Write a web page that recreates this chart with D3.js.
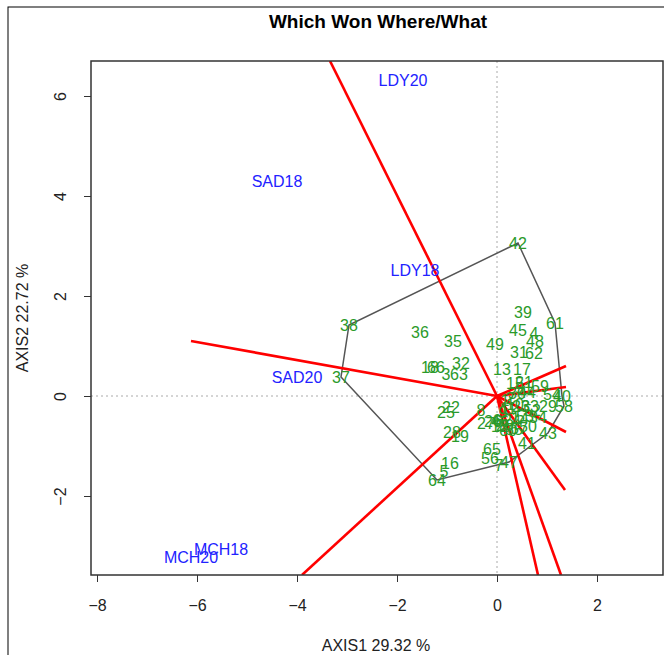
<!DOCTYPE html>
<html><head><meta charset="utf-8">
<script src="https://cdn.jsdelivr.net/npm/d3@7"></script>
<style>body{margin:0;background:#fff}svg{display:block;font-family:"Liberation Sans",Arial,sans-serif}</style>
</head><body><svg id="c" width="664" height="655"></svg>
<script>
const genoLabels = ["42","39","61","38","36","45","4","48","35","49","31","62","18","66","32","3","63","37","13","17","15","21","59","54","40","29","58","23","33","43","41","65","56","7","47","16","5","64","22","25","28","19","8","27","1","2","6","9","10","11","12","14","20","24","26","30","34","44","46","50","51","52","53","55","57","60"];
const genoAxis1 = [0.42,0.52,1.16,-2.96,-1.54,0.42,0.74,0.76,-0.88,-0.04,0.44,0.74,-1.34,-1.22,-0.72,-1.02,-0.76,-3.12,0.10,0.50,0.36,0.54,0.86,1.10,1.30,1.02,1.34,0.48,0.66,1.02,0.60,-0.10,-0.14,0.04,0.24,-0.94,-1.06,-1.20,-0.92,-1.02,-0.90,-0.74,-0.32,-0.22,0.16,0.26,0.00,0.12,0.36,0.22,0.06,0.46,0.16,0.30,-0.08,0.40,0.82,0.60,0.06,0.62,0.54,0.70,0.56,0.34,0.44,0.22];
const genoAxis2 = [3.06,1.68,1.46,1.42,1.28,1.32,1.26,1.10,1.10,1.04,0.88,0.86,0.58,0.58,0.66,0.44,0.44,0.38,0.54,0.54,0.26,0.28,0.20,0.04,0.00,-0.20,-0.20,-0.20,-0.20,-0.74,-0.94,-1.06,-1.24,-1.38,-1.32,-1.34,-1.50,-1.68,-0.22,-0.32,-0.72,-0.80,-0.28,-0.54,-0.08,-0.04,-0.48,-0.32,-0.16,-0.24,-0.60,-0.44,-0.58,-0.48,-0.50,0.06,-0.42,0.08,-0.50,-0.60,0.16,-0.28,-0.40,-0.66,-0.64,-0.68];
const envLabels = ["LDY20","SAD18","LDY18","SAD20","MCH18","MCH20"];
const envAxis1 = [-1.88,-4.40,-1.64,-4.00,-5.52,-6.12];
const envAxis2 = [6.32,4.30,2.52,0.38,-3.06,-3.22];
const hullOrder = ["42","61","40","58","43","47","64","37","38"];
const rayAxis1 = [-3.34,-6.12,-3.90,0.82,1.28,1.36,1.38,1.38,1.38];
const rayAxis2 = [6.70,1.10,-3.58,-3.58,-3.58,-1.88,-0.72,0.18,0.60];
const xTicks = [-8,-6,-4,-2,0,2];
const yTicks = [-2,0,2,4,6];
const titleText = "Which Won Where/What";
const xLabel = "AXIS1 29.32 %";
const yLabel = "AXIS2 22.72 %";

const svg = d3.select("#c");
const L=91,T=61,R=663,B=575;
const x = d3.scaleLinear().domain([-8.12,3.32]).range([L,R]);
const y = d3.scaleLinear().domain([-3.58,6.70]).range([B,T]);

// outer frame
svg.append("rect").attr("x",8).attr("y",7).attr("width",700).attr("height",700).attr("fill","none").attr("stroke","#000").attr("stroke-width",1);

svg.append("text").attr("x",378).attr("y",21).attr("dy","0.35em").attr("text-anchor","middle")
  .attr("font-size",19).attr("font-weight","bold").text(titleText);

svg.append("clipPath").attr("id","clip").append("rect").attr("x",L).attr("y",T).attr("width",R-L).attr("height",B-T);
const g = svg.append("g").attr("clip-path","url(#clip)");

// reference dotted lines
g.append("line").attr("x1",x(0)).attr("x2",x(0)).attr("y1",T).attr("y2",B).attr("stroke","#aaa").attr("stroke-dasharray","2,3").attr("stroke-width",1);
g.append("line").attr("x1",L).attr("x2",R).attr("y1",y(0)).attr("y2",y(0)).attr("stroke","#aaa").attr("stroke-dasharray","2,3").attr("stroke-width",1);

const idx = {}; genoLabels.forEach((l,i)=>idx[l]=i);
const hullPts = hullOrder.map(l=>[x(genoAxis1[idx[l]]), y(genoAxis2[idx[l]])]);
g.append("path").attr("d", d3.line()(hullPts)+"Z").attr("fill","none").attr("stroke","#555").attr("stroke-width",1.5);

rayAxis1.forEach((v,i)=>{
  g.append("line").attr("x1",x(0)).attr("y1",y(0)).attr("x2",x(v)).attr("y2",y(rayAxis2[i]))
   .attr("stroke","#ff0000").attr("stroke-width",2.6);
});

g.selectAll("text.geno").data(genoLabels).enter().append("text").attr("class","geno")
  .attr("x",(d,i)=>x(genoAxis1[i])).attr("y",(d,i)=>y(genoAxis2[i])).attr("dy","0.35em")
  .attr("text-anchor","middle").attr("font-size",16).attr("fill","#2a9a2a").text(d=>d);

g.selectAll("text.env").data(envLabels).enter().append("text").attr("class","env")
  .attr("x",(d,i)=>x(envAxis1[i])).attr("y",(d,i)=>y(envAxis2[i])).attr("dy","0.35em")
  .attr("text-anchor","middle").attr("font-size",16).attr("fill","#2222ff").text(d=>d);

// box
svg.append("rect").attr("x",L).attr("y",T).attr("width",R-L).attr("height",B-T).attr("fill","none").attr("stroke","#333").attr("stroke-width",1.5);

// axes
const xa = svg.append("g").attr("transform",`translate(0,${B})`)
  .call(d3.axisBottom(x).tickValues(xTicks).tickSize(7).tickPadding(18).tickFormat(d=>d<0?"\u2212"+(-d):d));
xa.select(".domain").remove();
xa.selectAll("line").attr("stroke","#333");
xa.selectAll("text").attr("font-size",16).attr("font-family","Liberation Sans, Arial, sans-serif").attr("fill","#222");

const ya = svg.append("g").attr("transform",`translate(${L},0)`)
  .call(d3.axisLeft(y).tickValues(yTicks).tickSize(7).tickFormat(d=>d<0?"\u2212"+(-d):d));
ya.select(".domain").remove();
ya.selectAll("line").attr("stroke","#333");
ya.selectAll("text").attr("font-size",16).attr("font-family","Liberation Sans, Arial, sans-serif").attr("fill","#222")
  .attr("x",null).attr("dy",null).attr("text-anchor","middle")
  .attr("transform","translate(-31,0) rotate(-90)").attr("dy","0.35em");

svg.append("text").attr("x",376).attr("y",645).attr("dy","0.35em").attr("text-anchor","middle")
  .attr("font-size",16).attr("fill","#222").text(xLabel);
svg.append("text").attr("transform","translate(22,318) rotate(-90)").attr("dy","0.35em").attr("text-anchor","middle")
  .attr("font-size",16).attr("fill","#222").text(yLabel);
</script></body></html>
